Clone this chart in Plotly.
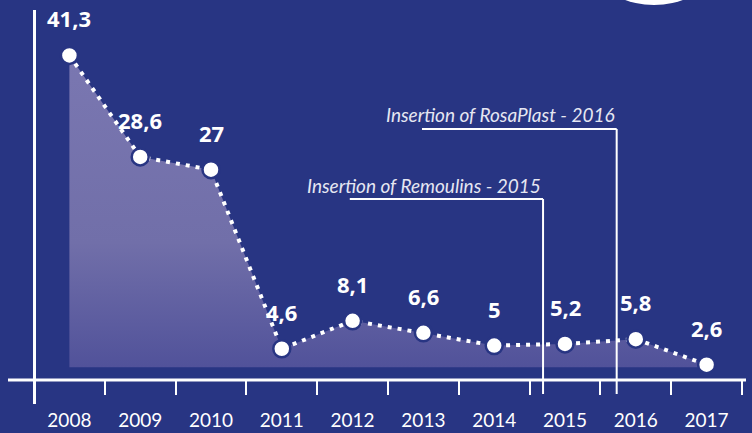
import plotly.graph_objects as go

years = ["2008", "2009", "2010", "2011", "2012", "2013", "2014", "2015", "2016", "2017"]
values = [41.3, 28.6, 27, 4.6, 8.1, 6.6, 5, 5.2, 5.8, 2.6]
fill_base = 2.3
events = [
    {"text": "Insertion of Remoulins - 2015", "x": 6.69, "x_start": 3.96, "y_line": 199, "y_text": 185},
    {"text": "Insertion of RosaPlast - 2016", "x": 7.73, "x_start": 4.98, "y_line": 129, "y_text": 114},
]

BG = "#283583"
W, H = 752, 433
ML, MR, MT, MB = 34, 10, 10, 53
PW, PH = W - ML - MR, H - MT - MB


def px_x(px):
    return (px - ML) / PW


def px_y(py):
    return (H - MB - py) / PH


fig = go.Figure()

fig.add_trace(go.Scatter(
    x=years, y=[fill_base] * len(years), mode="lines",
    line=dict(width=0, color="rgba(0,0,0,0)"), hoverinfo="skip", showlegend=False,
))
fig.add_trace(go.Scatter(
    x=years, y=values, mode="lines+markers", fill="tonexty",
    fillgradient=dict(type="vertical", colorscale=[
        [0.0, "#51529a"], [0.4, "#716fa9"], [1.0, "#7a77b1"]]),
    line=dict(color="white", width=4, dash="4px,6px"),
    marker=dict(size=17, color="white", line=dict(color=BG, width=2.5)),
    showlegend=False,
))

shapes = []
shapes.append(dict(type="line", xref="paper", yref="paper",
                   x0=px_x(8), x1=px_x(746), y0=px_y(380), y1=px_y(380),
                   line=dict(color="white", width=3)))
shapes.append(dict(type="line", xref="paper", yref="paper",
                   x0=px_x(34.5), x1=px_x(34.5), y0=px_y(404), y1=px_y(10),
                   line=dict(color="white", width=3)))
annotations = []
for ev in events:
    shapes.append(dict(type="line", xref="x", yref="paper",
                       x0=ev["x_start"], x1=ev["x"], y0=px_y(ev["y_line"]), y1=px_y(ev["y_line"]),
                       line=dict(color="white", width=2)))
    shapes.append(dict(type="line", xref="x", yref="paper",
                       x0=ev["x"], x1=ev["x"], y0=px_y(ev["y_line"]), y1=px_y(394),
                       line=dict(color="white", width=2)))
    annotations.append(dict(xref="x", yref="paper", x=ev["x"], y=px_y(ev["y_text"]),
                            text=ev["text"], showarrow=False, xanchor="right", yanchor="middle",
                            font=dict(family="Lato", size=19, color="#e6e7f2", style="italic")))

shapes.append(dict(type="circle", xref="paper", yref="paper",
                   x0=px_x(606), x1=px_x(702), y0=px_y(5), y1=px_y(-45),
                   fillcolor="white", line=dict(width=0)))

for i, v in enumerate(values):
    annotations.append(dict(xref="x", yref="y", x=i, y=v, text=f"{v:g}".replace(".", ","),
                            showarrow=False, yshift=37,
                            font=dict(family="Open Sans", size=22, color="white", weight="bold")))

fig.update_layout(
    width=W, height=H,
    margin=dict(l=ML, r=MR, t=MT, b=MB, pad=0, autoexpand=False),
    paper_bgcolor=BG, plot_bgcolor=BG,
    shapes=shapes, annotations=annotations,
    xaxis=dict(type="category", categoryorder="array", categoryarray=years,
               range=[-0.5, 9.5], tickson="boundaries", ticks="outside", ticklen=14,
               tickwidth=2, tickcolor="white", showgrid=False, zeroline=False, showline=False,
               ticklabelstandoff=27, automargin=False,
               tickfont=dict(family="Lato", size=19, color="white")),
    yaxis=dict(range=[0.69, 46.98], visible=False, showgrid=False, zeroline=False,
               automargin=False),
)

fig.write_html("out.html", config={"displayModeBar": False},
               post_script="document.body.style.margin='0';document.body.style.background='" + BG + "';")
